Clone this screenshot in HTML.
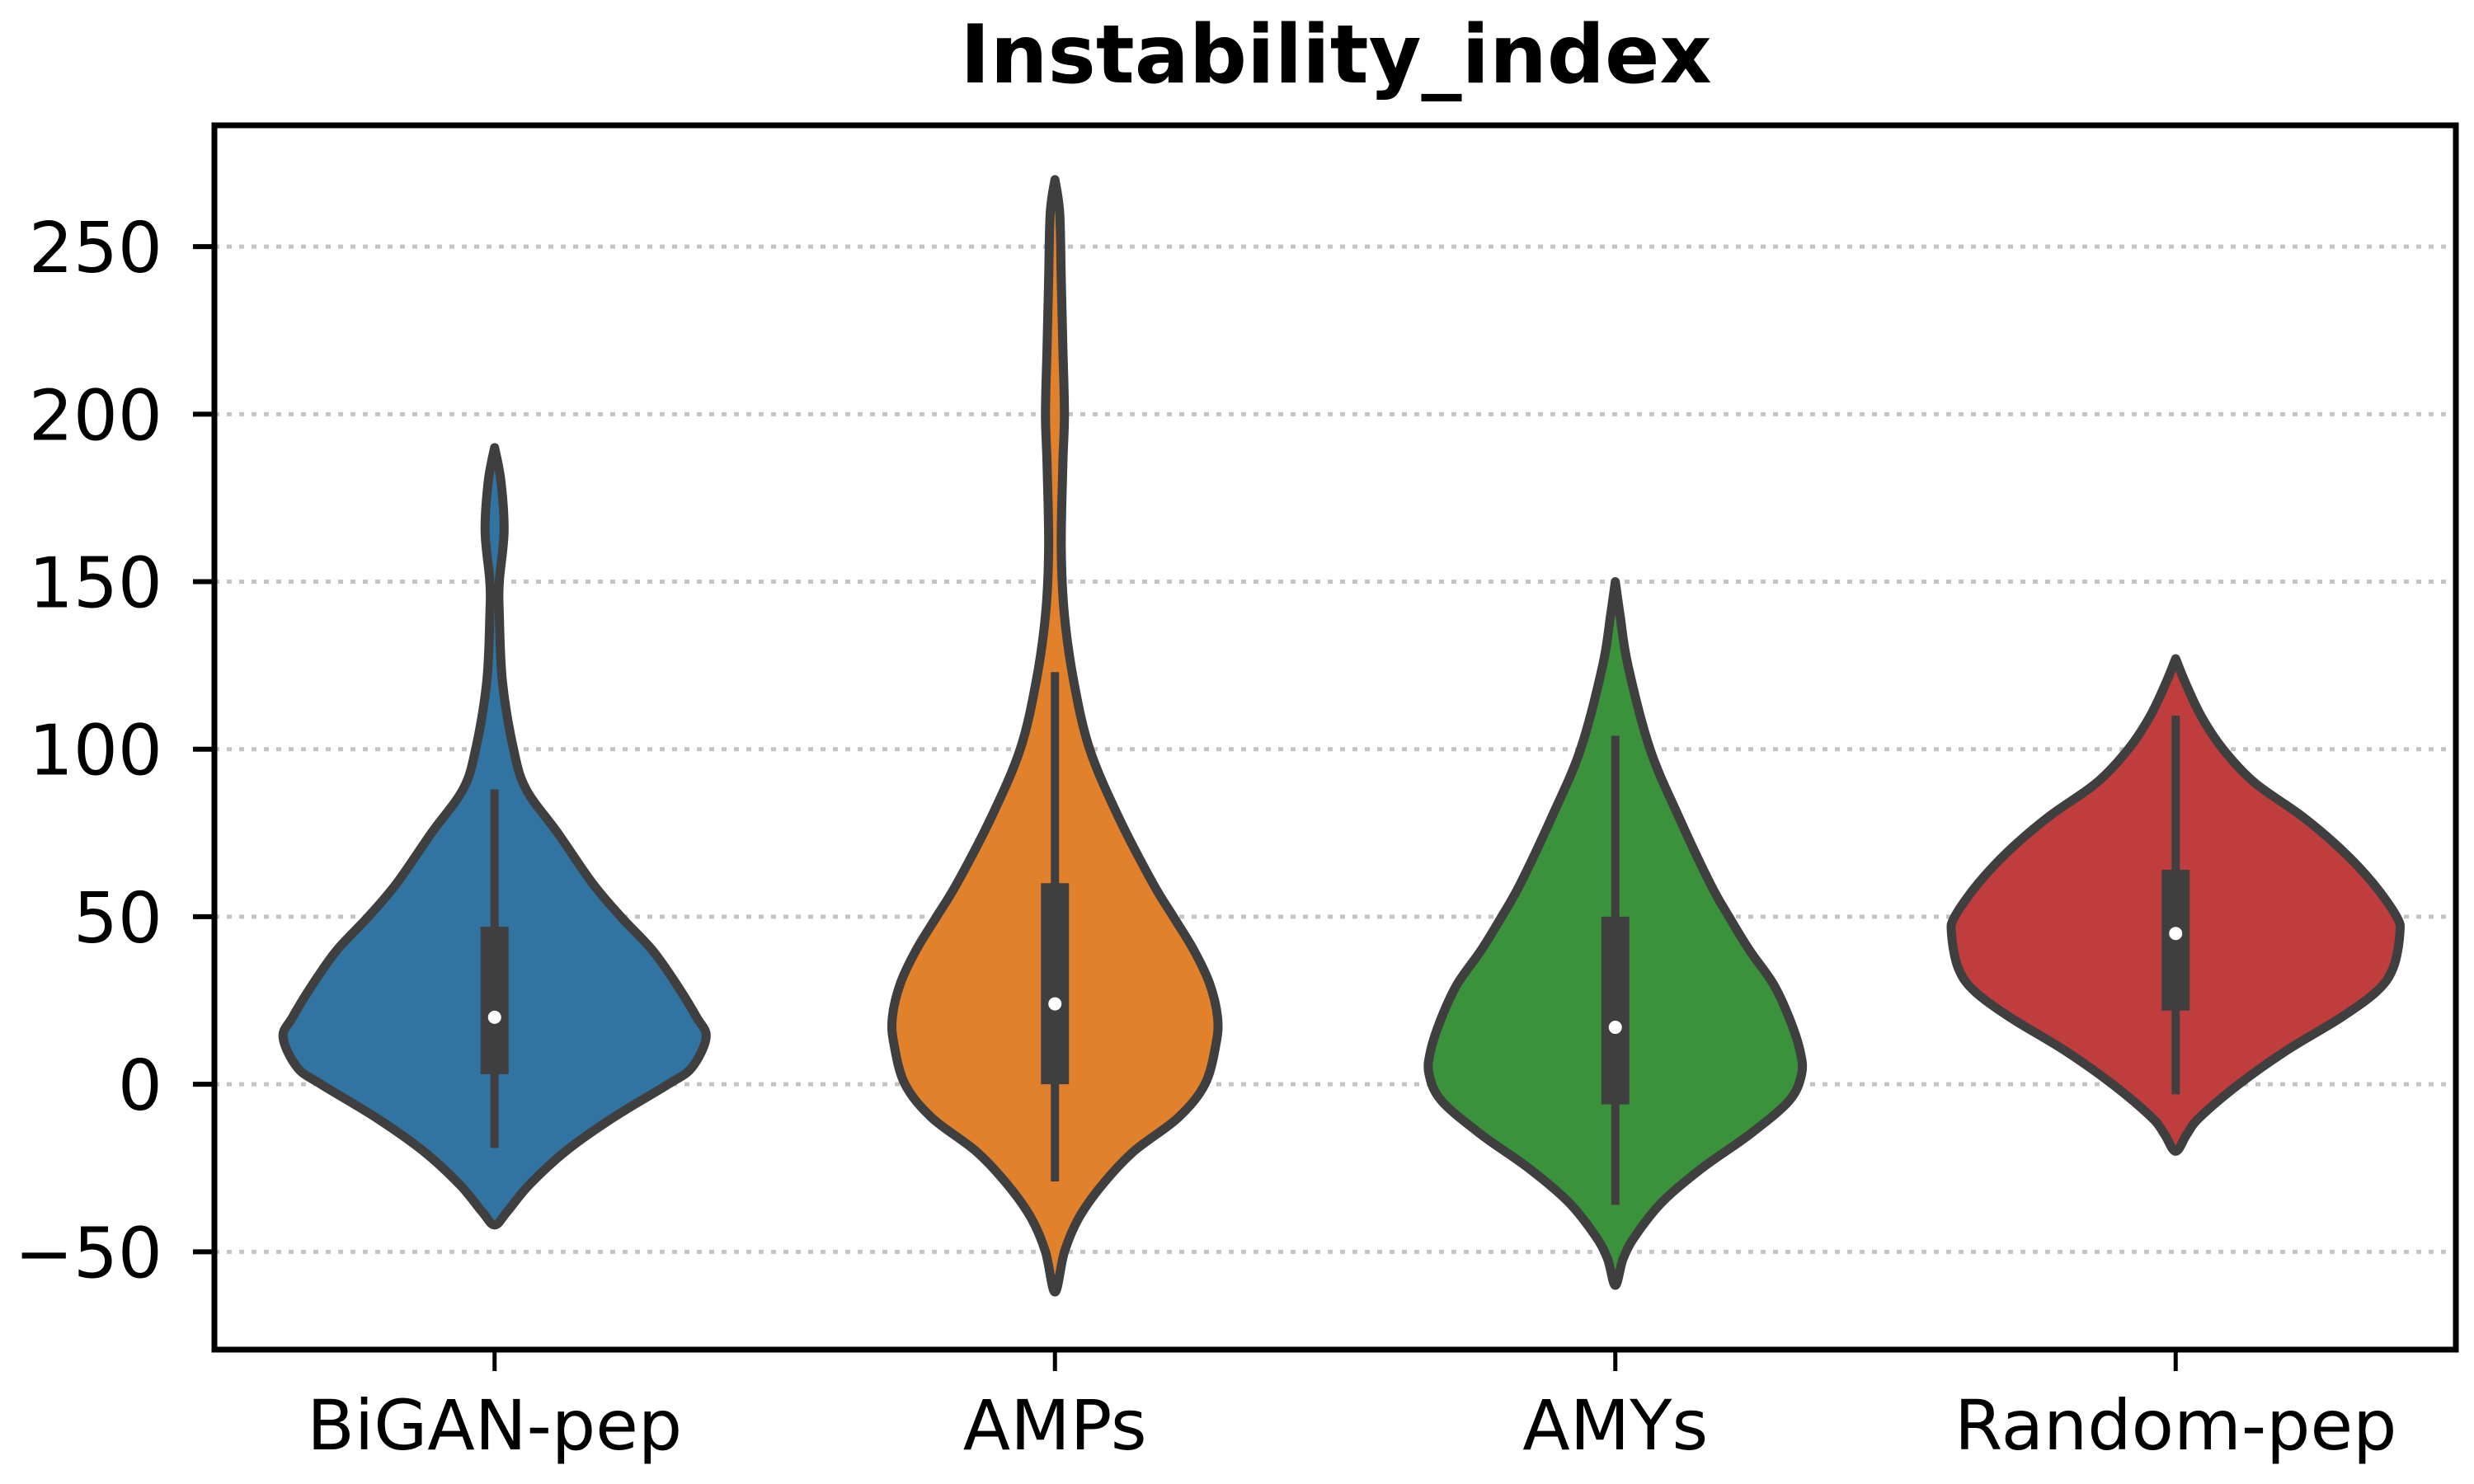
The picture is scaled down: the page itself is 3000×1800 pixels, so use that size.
<!DOCTYPE html>
<html><head><meta charset="utf-8"><style>
html,body{margin:0;padding:0;background:#fff}
svg{display:block}
text{font-family:"DejaVu Sans","Liberation Sans",sans-serif}
</style></head><body>
<svg id="chart" width="3000" height="1800" viewBox="0 0 3000 1800" xmlns="http://www.w3.org/2000/svg">
<rect width="3000" height="1800" fill="#fff"/>
<text x="1620" y="100" text-anchor="middle" font-size="98" font-weight="bold">Instability_index</text>
<g id="grid"></g><g id="violins"></g><g id="axes"></g>
</svg>
<script>
const categories = ["BiGAN-pep","AMPs","AMYs","Random-pep"];
const colors = ["#3274a1","#e1812c","#3a923a","#c03d3e"];
const yTicks = [-50,0,50,100,150,200,250];
const yTickLabels = ["\u221250","0","50","100","150","200","250"];
// density profiles: [value, half-width in fraction of category spacing]
const bigValues = [190,180,165,150,140,120,100,88,75,60,50,40,30,20,14,5,0,-10,-20,-30,-38,-42];
const bigWidths = [0,4,6,3,3,5,12,20,40,62,80,100,115,128,134,125,110,75,45,22,8,0];
const ampValues = [270,260,240,220,200,185,160,140,120,100,80,60,50,40,30,20,12,0,-10,-20,-30,-40,-50,-62];
const ampWidths = [0,3,4,5,6,5,4,6,12,22,40,62,75,88,98,103,102,95,78,50,30,15,6,0];
const amyValues = [150,140,125,100,80,60,50,40,30,20,10,3,-5,-15,-25,-35,-45,-52,-60];
const amyWidths = [0,3,8,22,40,60,72,85,100,110,117,118,110,85,55,30,13,5,0];
const rndValues = [127,120,110,100,90,80,70,60,50,45,35,28,20,10,0,-10,-15,-20];
const rndWidths = [0,6,16,30,50,80,105,125,140,142,138,128,105,70,40,15,7,0];
const whiskLow = [-19,-29,-36,-3];
const whiskHigh = [88,123,104,110];
const q1 = [3,0,-6,22];
const q3 = [47,60,50,64];
const medians = [20,24,17,45];

const L=260,R=2978,T=152,B=1637,yMin=-79.2,yMax=286.2;
const step=(R-L)/categories.length;
const sx=i=>L+step*(i+0.5);
const sy=v=>B-(v-yMin)/(yMax-yMin)*(B-T);
const wScale=step/355;
const NS="http://www.w3.org/2000/svg";
function mk(tag,attrs,parent){const e=document.createElementNS(NS,tag);for(const k in attrs)e.setAttribute(k,attrs[k]);parent.appendChild(e);return e;}
const grid=document.getElementById('grid'),vg=document.getElementById('violins'),ax=document.getElementById('axes');
yTicks.forEach((t,i)=>{
  const g=mk('line',{x1:L,x2:R,y1:sy(t),y2:sy(t),stroke:'#c4c4c4','stroke-width':5,'stroke-dasharray':'6 9'},grid);
  
  
  const tk=mk('line',{x1:L-26,x2:L,y1:sy(t),y2:sy(t),stroke:'#000','stroke-width':6},ax);
  
  
  const tx=mk('text',{x:197,y:sy(t)+31,'text-anchor':'end','font-size':85},ax);
  tx.textContent=yTickLabels[i];
  
  
});
function smooth(pts){
  let d='M'+pts[0][0]+','+pts[0][1];
  for(let i=0;i<pts.length-1;i++){
    const p0=pts[Math.max(i-1,0)],p1=pts[i],p2=pts[i+1],p3=pts[Math.min(i+2,pts.length-1)];
    const c1=[p1[0]+(p2[0]-p0[0])/6,p1[1]+(p2[1]-p0[1])/6];
    const c2=[p2[0]-(p3[0]-p1[0])/6,p2[1]-(p3[1]-p1[1])/6];
    d+=' C'+c1[0]+','+c1[1]+' '+c2[0]+','+c2[1]+' '+p2[0]+','+p2[1];
  }
  return d;
}
const profiles=[[bigValues,bigWidths],[ampValues,ampWidths],[amyValues,amyWidths],[rndValues,rndWidths]];
profiles.forEach((p,i)=>{
  const cx=sx(i);
  const right=p[0].map((v,j)=>[cx+p[1][j]*wScale,sy(v)]);
  const left=p[0].map((v,j)=>[cx-p[1][j]*wScale,sy(v)]).reverse();
  const all=right.concat(left.slice(1));
  const path=mk('path',{d:smooth(all)+' Z',fill:colors[i],stroke:'#3f3f3f','stroke-width':11,'stroke-linejoin':'round'},vg);
  
  
  const w=mk('line',{x1:cx,x2:cx,y1:sy(whiskLow[i]),y2:sy(whiskHigh[i]),stroke:'#3f3f3f','stroke-width':10},vg);
  
  
  const bx=mk('line',{x1:cx,x2:cx,y1:sy(q1[i]),y2:sy(q3[i]),stroke:'#3f3f3f','stroke-width':34},vg);
  
  
  const m=mk('circle',{cx:cx,cy:sy(medians[i]),r:8,fill:'#fff'},vg);
  
  
  const tk=mk('line',{x1:cx,x2:cx,y1:B,y2:B+26,stroke:'#000','stroke-width':5},ax);
  
  
  const tx=mk('text',{x:cx,y:1758,'text-anchor':'middle','font-size':84},ax);
  tx.textContent=categories[i];
  
  
});
const frame=mk('rect',{x:L,y:T,width:R-L,height:B-T,fill:'none',stroke:'#000','stroke-width':7},ax);


</script>
</body></html>
